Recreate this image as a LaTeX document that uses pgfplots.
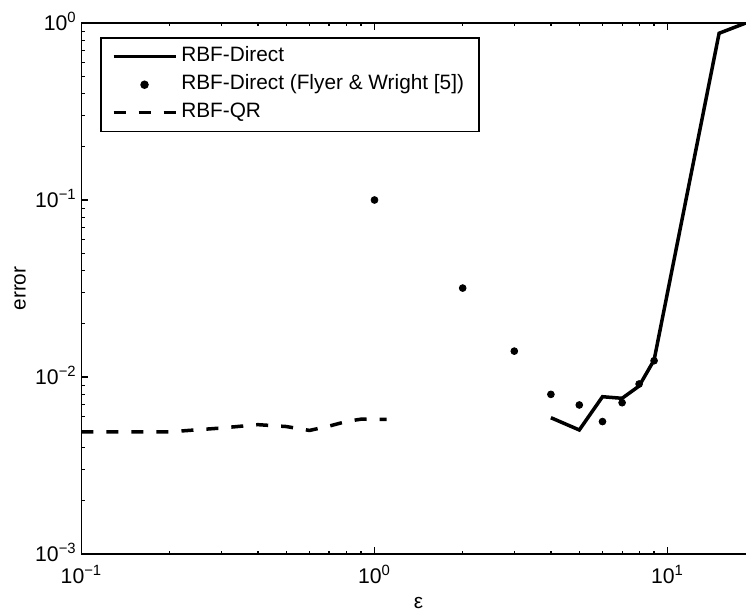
\documentclass[border=0pt]{standalone}
\usepackage{fontspec}
\setmainfont{Liberation Sans}
\usepackage{pgfplots}
\pgfplotsset{compat=1.18}

\pgfplotstableread{
x y
4 0.00589
5 0.00502
6 0.00774
7 0.00758
8 0.00889
9 0.01247
15 0.875
18.5 1.0
}\direct

\pgfplotstableread{
x y
1 0.1
2 0.0318
3 0.0140
4 0.00798
5 0.00695
6 0.00560
7 0.00716
8 0.00913
9 0.01236
}\flyer

\pgfplotstableread{
x y
0.1 0.00489
0.2 0.00490
0.3 0.00515
0.4 0.00538
0.5 0.00525
0.6 0.00499
0.7 0.00528
0.8 0.00560
0.9 0.00578
1.0 0.00576
1.1 0.00577
}\qr

\begin{document}
\begin{tikzpicture}
\begin{axis}[
  name=ax,
  xmode=log, ymode=log,
  scale only axis,
  width=337.1pt, height=265.5pt,
  xmin=0.1, xmax=20,
  ymin=0.001, ymax=1,
  xtick={0.1,1,10},
  xticklabels={10\textsuperscript{−1},10\textsuperscript{0},10\textsuperscript{1}},
  minor xtick={0.2,0.3,0.4,0.5,0.6,0.7,0.8,0.9,2,3,4,5,6,7,8,9,20},
  ytick={0.001,0.01,0.1,1},
  yticklabels={10\textsuperscript{−3},10\textsuperscript{−2},10\textsuperscript{−1},10\textsuperscript{0}},
  minor ytick={0.002,0.003,0.004,0.005,0.006,0.007,0.008,0.009,
               0.02,0.03,0.04,0.05,0.06,0.07,0.08,0.09,
               0.2,0.3,0.4,0.5,0.6,0.7,0.8,0.9},
  major tick length=3.5pt,
  minor tick length=1.75pt,
  tick style={black, line width=0.6pt},
  axis line style={line width=0.8pt},
  tick label style={font=\fontsize{10.6}{12}\selectfont},
  xticklabel style={anchor=base, yshift=-14.5pt},
  yticklabel style={anchor=base east, yshift=-3.8pt, inner xsep=2.2pt},
  xlabel={ε},
  ylabel={error},
  label style={font=\fontsize{10.4}{12}\selectfont},
  xlabel style={at={(axis description cs:0.5,0)}, anchor=center, yshift=-24.5pt},
  ylabel style={at={(axis description cs:-0.0912,0.5)}, anchor=center},
  legend cell align=left,
  legend image code/.code={\draw[mark repeat=2,mark phase=2,#1] plot coordinates {(0pt,0pt) (15.5pt,0pt) (31pt,0pt)};},
  legend style={
    at={(axis description cs:0.0274,0.973)}, anchor=north west,
    draw=black, line width=0.8pt, fill=white,
    font=\fontsize{10.4}{12}\selectfont,
    inner xsep=5.5pt, inner ysep=2.3pt,
    row sep=0pt,
    nodes={inner xsep=2pt, inner ysep=1.5pt, text height=8pt, text depth=3pt},
  },
]
\addplot[black, line width=1.75pt, mark=none] table[x=x,y=y]{\direct};
\addlegendentry{RBF-Direct}
\addplot[black, only marks, mark=*, mark size=1.7pt] table[x=x,y=y]{\flyer};
\addlegendentry{RBF-Direct (Flyer \& Wright [5])}
\addplot[black, line width=1.75pt, dash pattern=on 6pt off 6.5pt, mark=none] table[x=x,y=y]{\qr};
\addlegendentry{RBF-QR}
\end{axis}
\pgfresetboundingbox
\path[use as bounding box] ([xshift=-40.75pt,yshift=-28pt]ax.south west) rectangle ([xshift=332.25pt,yshift=11.5pt]ax.north west);
\end{tikzpicture}
\end{document}
